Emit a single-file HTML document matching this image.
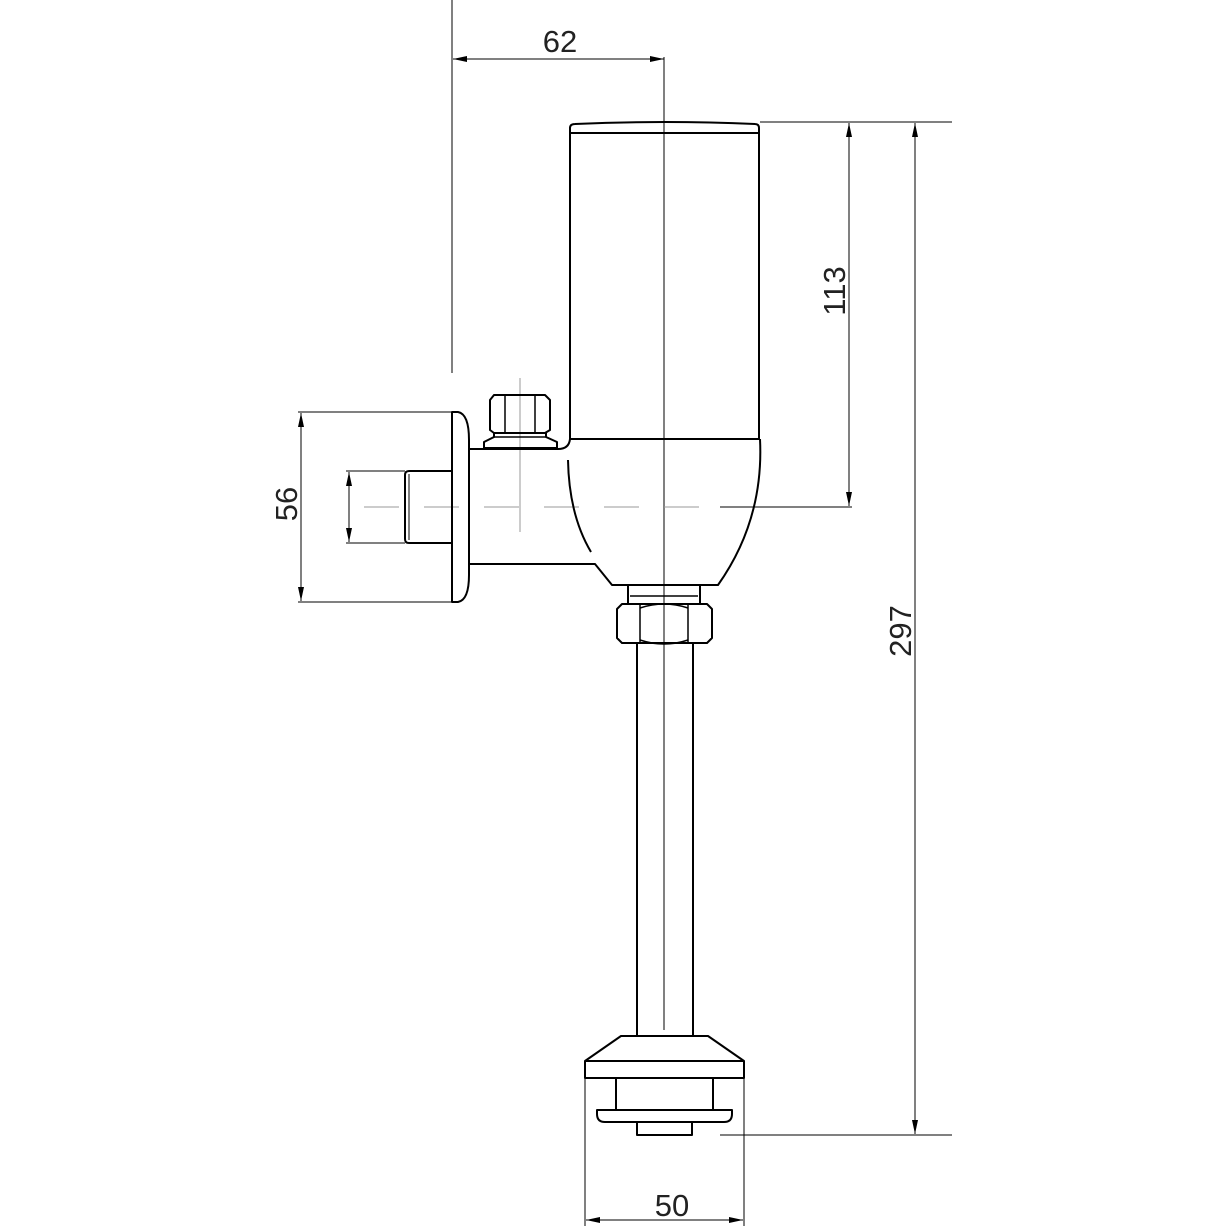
<!DOCTYPE html><html><head><style>html,body{margin:0;background:#fff}svg{display:block}</style></head><body>
<svg width="1226" height="1226" viewBox="0 0 1226 1226" xmlns="http://www.w3.org/2000/svg">
<defs><marker id="a" markerWidth="14" markerHeight="6" refX="14" refY="3" orient="auto-start-reverse" markerUnits="userSpaceOnUse"><path d="M0,0L14,3L0,6z" fill="#000"/></marker></defs>
<g fill="none" stroke="#000" stroke-width="1">
<!-- dims -->
<line x1="452" y1="0" x2="452" y2="373"/>
<line x1="453" y1="59" x2="664" y2="59" marker-start="url(#a)" marker-end="url(#a)"/>
<line x1="664" y1="57" x2="664" y2="1030"/>
<line x1="760" y1="122" x2="952" y2="122"/>
<line x1="720" y1="507" x2="852" y2="507"/>
<line x1="720" y1="1135" x2="952" y2="1135"/>
<line x1="849" y1="123" x2="849" y2="506" marker-start="url(#a)" marker-end="url(#a)"/>
<line x1="915" y1="123" x2="915" y2="1134" marker-start="url(#a)" marker-end="url(#a)"/>
<line x1="298" y1="412" x2="452" y2="412"/>
<line x1="298" y1="602" x2="452" y2="602"/>
<line x1="301" y1="413" x2="301" y2="601" marker-start="url(#a)" marker-end="url(#a)"/>
<line x1="346" y1="471" x2="405" y2="471"/>
<line x1="346" y1="543" x2="405" y2="543"/>
<line x1="349" y1="472" x2="349" y2="542" marker-start="url(#a)" marker-end="url(#a)"/>
<line x1="585" y1="1078" x2="585" y2="1226"/>
<line x1="744" y1="1078" x2="744" y2="1226"/>
<line x1="586" y1="1220" x2="743" y2="1220" marker-start="url(#a)" marker-end="url(#a)"/>
</g>
<g fill="none" stroke="#999" stroke-width="1">
<line x1="364" y1="507" x2="720" y2="507" stroke-dasharray="35,25"/>
<line x1="520" y1="378" x2="520" y2="532"/>
</g>
<g fill="none" stroke="#000" stroke-width="2" stroke-linejoin="round">
<!-- cylinder -->
<path d="M570,439 V128 Q570,124 575,124 Q665,120 755,124 Q759,124 759,128 V439"/>
<line x1="571" y1="133" x2="758" y2="133"/>
<line x1="570" y1="439" x2="760" y2="439"/>
<!-- body -->
<path d="M469,449 H558 Q569,449 570,439"/>
<path d="M760,439 Q764,520 718,585 H612 L595,564 H469"/>
<path d="M568,460 Q569,515 591,552"/>
<!-- wall flange -->
<path d="M452,412 H458 Q469,414 469,440 V575 Q469,600 458,602 H452 Z"/>
<!-- thread -->
<path d="M452,471 H409 Q405,471 405,475 V539 Q405,543 409,543 H452"/>
<line x1="409" y1="474" x2="409" y2="540" stroke-width="1"/>
<!-- top nut -->
<path d="M494,395 H545 L550,400 V430 L545,433 H494 L490,430 V400 Z"/>
<line x1="505" y1="396" x2="505" y2="433" stroke-width="1.5"/>
<line x1="535" y1="396" x2="535" y2="433" stroke-width="1.5"/>
<path d="M494,433 V437 L484,442 V448 H557 V442 L546,437 V433"/>
<line x1="494" y1="437" x2="546" y2="437" stroke-width="1.5"/>
<!-- lower collar/nut -->
<path d="M628,585 V604 M700,585 V604"/>
<line x1="630" y1="596" x2="698" y2="596" stroke-width="1.5"/>
<path d="M622,604 H707 L712,609 V638 L707,643 H622 L617,638 V609 Z"/>
<line x1="640" y1="605" x2="640" y2="642" stroke-width="1.5"/>
<line x1="688" y1="605" x2="688" y2="642" stroke-width="1.5"/>
<path d="M640,608 Q664,600 688,608 M640,640 Q664,648 688,640" stroke-width="1.5"/>
<!-- pipe -->
<line x1="637" y1="643" x2="637" y2="1036"/>
<line x1="693" y1="643" x2="693" y2="1036"/>
<!-- bottom -->
<path d="M621,1036 H708 L744,1061 V1078 H585 V1061 Z"/>
<line x1="585" y1="1061" x2="744" y2="1061"/>
<path d="M616,1078 V1110 M713,1078 V1110"/>
<path d="M597,1110 H732 V1114 Q732,1122 724,1122 H605 Q597,1122 597,1114 Z"/>
<path d="M637,1122 V1135 H692 V1122"/>
</g>
<g font-family="Liberation Sans, sans-serif" font-size="31" fill="#222">
<text x="560" y="52" text-anchor="middle">62</text>
<text x="672" y="1216" text-anchor="middle">50</text>
<text transform="translate(845,291) rotate(-90)" text-anchor="middle">113</text>
<text transform="translate(911,631) rotate(-90)" text-anchor="middle">297</text>
<text transform="translate(297,504) rotate(-90)" text-anchor="middle">56</text>
</g>
</svg></body></html>
